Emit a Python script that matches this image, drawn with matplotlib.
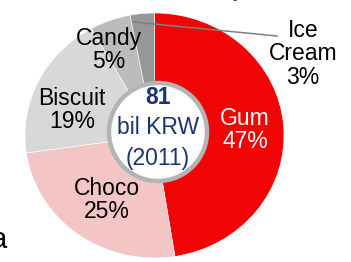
import numpy as np
import matplotlib.pyplot as plt
from matplotlib.patches import Circle

plt.rcParams['font.family'] = ['Liberation Sans', 'DejaVu Sans']

# market share (%) of confectionery, 2011
labels = ['Gum', 'Choco', 'Biscuit', 'Candy', 'Ice\nCream']
shares = [47, 25, 19, 5, 3]
colors = ['#f00404', '#f4c5c5', '#d8d8d8', '#bcbcbc', '#979797']
total = '81'
unit = 'bil KRW'
year = '(2011)'

W, H = 351, 262
fig = plt.figure(figsize=(W / 100, H / 100), dpi=100)

# pie axes, box = ellipse bounds in pixels (slightly wider than tall)
px0, px1, py0, py1 = 25, 284, 13, 258
axp = fig.add_axes([px0 / W, 1 - py1 / H, (px1 - px0) / W, (py1 - py0) / H])
axp.pie(shares, colors=colors, startangle=90, counterclock=False,
        wedgeprops=dict(edgecolor='white', linewidth=0.4))
axp.set_aspect('auto')
axp.set_xlim(-1, 1)
axp.set_ylim(-1, 1)
axp.axis('off')

# overlay in pixel coordinates
ax = fig.add_axes([0, 0, 1, 1])
ax.set_xlim(0, W)
ax.set_ylim(H, 0)
ax.axis('off')

ax.add_patch(Circle((158, 132), 49, facecolor='white', edgecolor='#b4b4b4', lw=3.2))

navy = '#1b3371'
fs = 16.5
ax.text(158, 97, total, color=navy, fontsize=fs, fontweight='bold', ha='center', va='center')
ax.text(158, 127, unit, color=navy, fontsize=fs, ha='center', va='center')
ax.text(158, 158, year, color=navy, fontsize=fs, ha='center', va='center')

# slice labels
pos = {'Gum': (245, 130), 'Choco': (107, 200), 'Biscuit': (72, 110),
       'Candy': (109, 50), 'Ice\nCream': (303, 54)}
for lab, s in zip(labels, shares):
    x, y = pos[lab]
    ax.text(x, y, f'{lab}\n{s}%', color='white' if lab == 'Gum' else 'black',
            fontsize=fs, ha='center', va='center', linespacing=1.05)

# leader line for Ice Cream
ax.plot([133, 277], [22, 36], color='#7f7f7f', lw=1.1)

# fragments of surrounding text
ax.text(7, 248, 'a', fontsize=21, ha='right', va='baseline', color='black')
ax.text(237, -3, 'y', fontsize=15, ha='center', va='baseline', color=navy)

fig.savefig('out.png', dpi=100)
